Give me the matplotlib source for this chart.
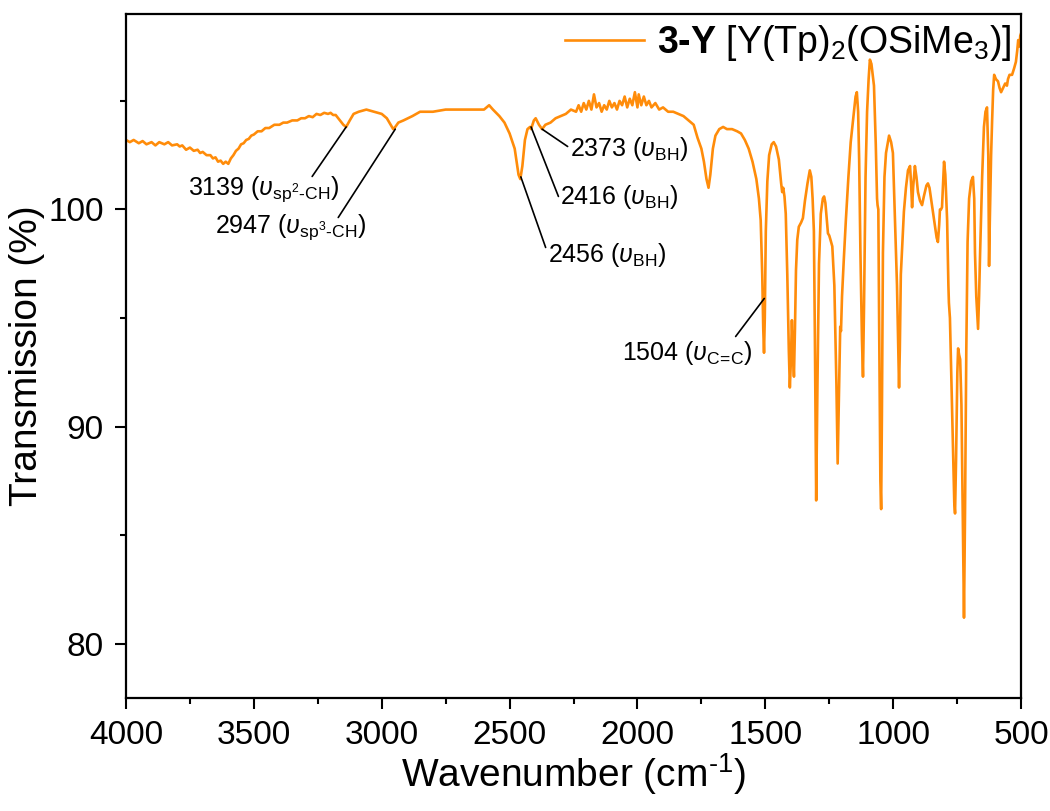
import numpy as np
import matplotlib
matplotlib.use("Agg")
import matplotlib.pyplot as plt
from matplotlib.ticker import MultipleLocator

plt.rcParams['font.family'] = ['Liberation Sans', 'DejaVu Sans']
plt.rcParams['mathtext.fontset'] = 'custom'
plt.rcParams['mathtext.rm'] = 'Liberation Sans'
plt.rcParams['mathtext.it'] = 'Liberation Sans:italic'
plt.rcParams['mathtext.bf'] = 'Liberation Sans:bold'

# IR spectrum of 3-Y (ATR), wavenumber in cm^-1 and transmission in %
wavenumber = [
    4000, 3985, 3970, 3950, 3935, 3920, 3900, 3885, 3870, 3850, 3835, 3820,
    3800, 3790, 3780, 3765, 3750, 3735, 3720, 3710, 3700, 3685, 3670, 3660,
    3650, 3640, 3630, 3620, 3610, 3600, 3590, 3580, 3570, 3560, 3550, 3540,
    3530, 3520, 3510, 3500, 3485, 3470, 3455, 3440, 3420, 3400, 3385, 3370,
    3350, 3330, 3315, 3300, 3285, 3270, 3255, 3240, 3225, 3210, 3200, 3190,
    3180, 3170, 3160, 3150, 3139, 3125, 3110, 3090,
    3060, 3030, 3000, 2980, 2965, 2955, 2947, 2935, 2915, 2880, 2850, 2800,
    2750, 2700, 2650, 2600, 2580, 2565, 2540, 2520, 2500, 2480, 2465, 2458,
    2450, 2440, 2430, 2420, 2416, 2405, 2398, 2385, 2373, 2360, 2340, 2320,
    2300, 2280, 2260, 2240, 2230, 2220, 2210, 2200, 2190, 2180, 2170, 2160,
    2150, 2140, 2130, 2120, 2110, 2100, 2090, 2080, 2070, 2060, 2050, 2040,
    2030, 2020, 2010, 2000, 1995, 1985, 1975, 1965, 1955, 1945, 1930, 1915,
    1900, 1880, 1860, 1840, 1820, 1800, 1780, 1765, 1750, 1740, 1730, 1722,
    1715, 1705, 1695, 1680, 1665, 1650, 1630, 1610, 1595, 1580, 1565, 1550,
    1535, 1525, 1518, 1512, 1508, 1505, 1502, 1498, 1492, 1485, 1475, 1467,
    1458, 1447, 1438, 1434, 1430, 1425, 1420, 1414, 1408, 1404, 1400, 1396,
    1392, 1388, 1384, 1380, 1375, 1369, 1360, 1353, 1345, 1335, 1326, 1320,
    1315, 1310, 1306, 1301, 1296, 1290, 1283, 1275, 1270, 1265, 1258, 1255,
    1250, 1245, 1238, 1230, 1222, 1217, 1212, 1207, 1204, 1200, 1193, 1185,
    1175, 1166, 1155, 1147, 1142, 1137, 1133, 1128, 1122, 1118, 1114, 1108,
    1102, 1096, 1091, 1085, 1075, 1068, 1063, 1061, 1058, 1055, 1050, 1047,
    1044, 1040, 1034, 1028, 1016, 1008, 1001, 997, 990, 985, 980, 977,
    974, 970, 966, 958, 950, 942, 934, 930, 926, 922, 915, 909,
    903, 895, 887, 880, 870, 864, 858, 852, 844, 836, 830, 825,
    820, 817, 813, 809, 805, 801, 796, 789, 784, 782, 778, 772,
    766, 761, 758, 754, 749, 746, 742, 738, 733, 728, 723, 719,
    714, 709, 703, 695, 688, 683, 680, 675, 668, 664, 660, 652,
    645, 639, 633, 628, 625, 622, 617, 613, 609, 605, 598, 590,
    584, 578, 570, 562, 555, 551, 545, 535, 527, 520, 515, 511,
    506, 503, 500,
]
transmission = [
    103.2, 103.1, 103.2, 103.05, 103.15, 103.0, 103.1, 102.95, 103.1, 103.0, 103.1, 102.95,
    103.0, 102.9, 102.95, 102.75, 102.85, 102.7, 102.75, 102.6, 102.65, 102.5, 102.5, 102.35,
    102.4, 102.2, 102.25, 102.1, 102.2, 102.1, 102.35, 102.5, 102.7, 102.8, 103.0, 103.05,
    103.2, 103.25, 103.4, 103.45, 103.6, 103.6, 103.75, 103.75, 103.9, 103.9, 104.0, 104.0,
    104.1, 104.1, 104.2, 104.2, 104.3, 104.25, 104.4, 104.35, 104.45, 104.4, 104.45, 104.35,
    104.35, 104.2, 104.05, 103.9, 103.8, 104.1, 104.4, 104.5,
    104.6, 104.5, 104.4, 104.2, 103.9, 103.7, 103.8, 104.0, 104.1, 104.3, 104.5, 104.5,
    104.6, 104.6, 104.6, 104.6, 104.8, 104.6, 104.3, 104.0, 103.5, 102.8, 101.6, 101.4,
    102.0, 103.2, 103.7, 103.8, 103.7, 104.1, 104.2, 103.9, 103.7, 103.9, 104.0, 104.2,
    104.3, 104.4, 104.6, 104.5, 104.8, 104.5, 104.9, 104.6, 105.0, 104.6, 105.3, 104.7,
    104.9, 104.5, 104.8, 104.6, 105.0, 104.7, 104.9, 104.6, 105.0, 104.8, 105.2, 104.7,
    105.1, 104.8, 105.4, 104.7, 105.3, 104.8, 105.2, 104.8, 105.0, 104.7, 104.9, 104.6,
    104.7, 104.5, 104.5, 104.4, 104.3, 104.1, 103.9, 103.3, 102.8, 102.2, 101.4, 101.0,
    101.6, 102.8, 103.4, 103.7, 103.8, 103.7, 103.7, 103.6, 103.5, 103.2, 102.8, 102.2,
    101.4, 100.5, 99.5, 97.0, 94.5, 93.4, 95.0, 99.0, 101.3, 102.5, 103.0, 103.1,
    102.9, 102.3, 101.2, 100.8, 101.0, 100.6, 99.8, 97.0, 93.5, 91.8, 93.0, 94.9,
    93.5, 92.3, 94.5, 97.2, 98.6, 99.2, 99.4, 99.6, 100.4, 101.2, 101.8, 101.5,
    100.5, 99.0, 94.0, 86.6, 92.0, 97.5, 99.8, 100.5, 100.6, 100.3, 99.3, 98.9,
    98.8, 98.6, 98.3, 96.5, 92.0, 88.3, 91.5, 94.6, 94.4, 96.0, 97.7, 99.5,
    101.5, 103.1, 104.3, 105.2, 105.4, 104.5, 102.3, 98.0, 94.0, 92.3, 95.5, 101.5,
    104.5, 106.0, 106.9, 106.7, 105.7, 103.0, 100.5, 100.2, 100.0, 95.0, 87.5, 86.2,
    90.5, 98.0, 101.5, 102.6, 103.4, 103.1, 102.6, 101.1, 98.5, 96.5, 93.5, 91.8,
    93.5, 97.0, 98.0, 99.9, 101.0, 101.8, 102.0, 101.2, 100.1, 101.0, 102.0, 101.5,
    100.8, 100.4, 100.2, 100.6, 101.1, 101.2, 101.0, 100.5, 99.8, 99.2, 98.7, 98.5,
    99.3, 100.0, 100.0, 100.1, 101.2, 102.2, 101.6, 99.5, 96.5, 95.7, 95.0, 92.0,
    89.0, 86.5, 86.0, 88.5, 92.5, 93.6, 93.3, 93.1, 91.0, 86.0, 81.2, 86.0,
    93.5, 98.5, 100.5, 101.3, 101.5, 100.5, 98.0, 96.0, 94.5, 96.0, 98.0, 101.5,
    103.8, 104.5, 104.7, 102.5, 97.4, 99.5, 102.5, 104.1, 105.5, 106.2, 106.0, 105.9,
    105.6, 105.4, 105.6, 105.8, 105.7, 106.0, 106.2, 106.2, 106.5, 106.8, 107.3, 107.8,
    107.5, 108.0, 108.1,
]

# Assigned bands: wavenumber, vibrational mode, transmission at the leader tip
band_wavenumbers = [3139, 2947, 2456, 2416, 2373, 1504]
band_modes = ['sp^{2}\u2010CH', 'sp^{3}\u2010CH', 'BH', 'BH', 'BH',
              'C\\!=\\!C']
band_tip_transmission = [103.8, 103.7, 101.5, 103.8, 103.7, 95.9]

# Leader line ends and label anchors (data coordinates)
leader_ends = [(3272, 101.52), (3170, 99.63), (2359, 98.25),
               (2309, 100.6), (2273, 102.9), (1616, 94.15)]
label_anchors = [(3757, 100.69, 'left'), (3652, 98.94, 'left'),
                 (2348, 97.60, 'left'), (2301, 100.23, 'left'),
                 (2262, 102.44, 'left'), (1549, 93.09, 'right')]

line_color = '#FF8C0A'

fig = plt.figure(figsize=(10.5, 8.11), dpi=100)
ax = fig.add_axes([0.12, 0.1393, 0.8524, 0.8434])

ax.plot(wavenumber, transmission, color=line_color, lw=1.9,
        label='$\\mathbf{3\u2010Y}$ [Y(Tp)$_2$(OSiMe$_3$)]')

for wn, mode, tip_t, end, anchor in zip(band_wavenumbers, band_modes,
                                        band_tip_transmission, leader_ends,
                                        label_anchors):
    ax.annotate('', xy=(wn, tip_t), xytext=end,
                arrowprops=dict(arrowstyle='-', color='black', lw=1.2,
                                shrinkA=0, shrinkB=0))
    ax.text(anchor[0], anchor[1],
            f'{wn} ($\\upsilon_{{\\mathrm{{{mode}}}}}$)',
            ha=anchor[2], va='baseline', fontsize=18, color='black')

ax.set_xlim(4000, 500)
ax.set_ylim(77.5, 109.0)
ax.xaxis.set_major_locator(MultipleLocator(500))
ax.xaxis.set_minor_locator(MultipleLocator(250))
ax.yaxis.set_major_locator(MultipleLocator(10))
ax.yaxis.set_minor_locator(MultipleLocator(5))

ax.tick_params(axis='both', which='major', direction='out', length=8,
               width=1.5, labelsize=24, pad=8)
ax.tick_params(axis='both', which='minor', direction='out', length=4.5,
               width=1.5)
ax.tick_params(top=False, right=False, which='both')
for s in ax.spines.values():
    s.set_linewidth(1.6)

ax.set_xlabel('Wavenumber (cm$^{\u20101}$)', fontsize=28, labelpad=0)
ax.set_ylabel('Transmission (%)', fontsize=28, labelpad=2)

ax.legend(loc='upper right', frameon=False, fontsize=27, handlelength=2.1,
          handletextpad=0.35, borderaxespad=0.15, borderpad=0.1)

fig.savefig('out.png', dpi=100)
